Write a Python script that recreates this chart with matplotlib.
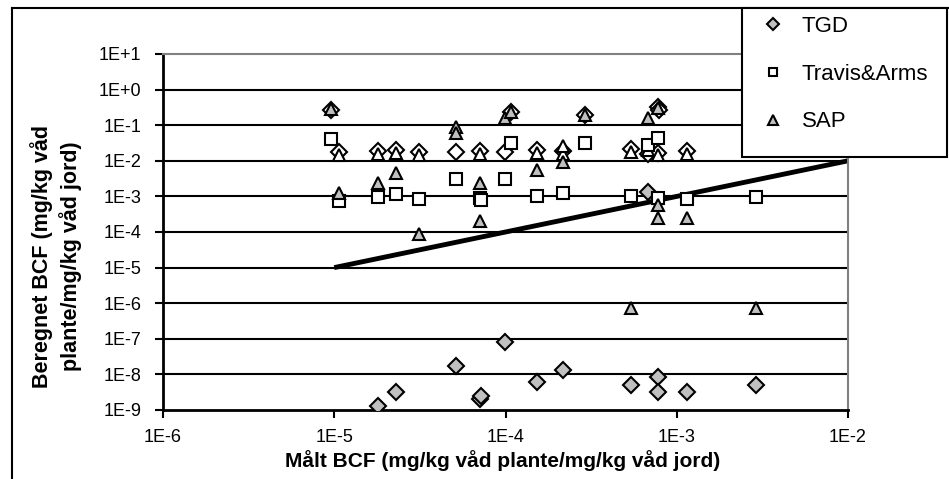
import matplotlib.pyplot as plt
from matplotlib.lines import Line2D
from matplotlib.patches import Rectangle

plt.rcParams['font.family'] = ['Liberation Sans', 'DejaVu Sans']

# Beregnet BCF (TGD), lave værdier
tgd_x = [1.79e-5, 2.29e-5, 5.12e-5, 7.1e-5, 7.2e-5, 9.9e-5, 1.52e-4, 2.17e-4,
         5.4e-4, 6.8e-4, 7.8e-4, 7.8e-4, 1.15e-3, 2.9e-3]
tgd_y = [1.3e-9, 3.2e-9, 1.7e-8, 2.1e-9, 2.5e-9, 8e-8, 6e-9, 1.3e-8,
         5e-9, 1.35e-3, 8.7e-9, 3.2e-9, 3.2e-9, 5e-9]

# Travis & Arms
travis_x = [9.6e-6, 1.06e-5, 1.79e-5, 2.29e-5, 3.13e-5, 5.12e-5, 7.1e-5, 7.2e-5,
            9.9e-5, 1.08e-4, 1.52e-4, 2.17e-4, 2.92e-4, 5.4e-4, 6.8e-4,
            7.8e-4, 7.8e-4, 1.15e-3, 2.9e-3]
travis_y = [0.04, 7.6e-4, 9.8e-4, 1.2e-3, 8.3e-4, 3e-3, 8.8e-4, 8e-4,
            3e-3, 0.032, 1.02e-3, 1.23e-3, 0.031, 1.0e-3, 0.028,
            0.043, 8.9e-4, 8.3e-4, 9.8e-4]

# SAP
sap_x = [9.6e-6, 1.06e-5, 1.79e-5, 2.29e-5, 3.13e-5, 5.12e-5, 5.12e-5, 7.13e-5,
         7.13e-5, 9.9e-5, 1.08e-4, 1.52e-4, 2.17e-4, 2.92e-4, 5.4e-4, 6.8e-4,
         7.8e-4, 7.8e-4, 7.8e-4, 1.15e-3, 2.9e-3]
sap_y = [0.29, 1.23e-3, 2.4e-3, 4.6e-3, 9e-5, 0.09, 0.06, 2.4e-3,
         2.1e-4, 0.155, 0.24, 5.5e-3, 9.4e-3, 0.19, 7.5e-7, 0.155,
         0.3, 5.7e-4, 2.4e-4, 2.4e-4, 7.5e-7]

# øvrige beregninger (uden signaturforklaring)
other_diamond_x = [9.6e-6, 1.06e-5, 1.79e-5, 2.29e-5, 3.13e-5, 5.12e-5, 7.13e-5,
                   9.9e-5, 1.08e-4, 1.52e-4, 2.17e-4, 2.92e-4, 5.4e-4, 6.8e-4,
                   7.8e-4, 7.9e-4, 7.8e-4, 1.15e-3]
other_diamond_y = [0.27, 0.018, 0.019, 0.02, 0.018, 0.018, 0.019,
                   0.018, 0.24, 0.02, 0.019, 0.19, 0.021, 0.016,
                   0.33, 0.27, 0.017, 0.019]
other_triangle_x = [1.06e-5, 1.79e-5, 2.29e-5, 3.13e-5, 7.13e-5, 1.52e-4, 2.17e-4,
                    2.17e-4, 5.4e-4, 6.8e-4, 7.8e-4, 1.15e-3]
other_triangle_y = [0.015, 0.016, 0.017, 0.015, 0.016, 0.017, 0.016,
                    0.026, 0.018, 0.02, 0.015, 0.016]

# 1:1 linje
line_x = [1e-5, 1e-2]
line_y = [1e-5, 1e-2]

x_ticks = [1e-6, 1e-5, 1e-4, 1e-3, 1e-2]
x_tick_labels = ['1E-6', '1E-5', '1E-4', '1E-3', '1E-2']
y_ticks = [1e1, 1e0, 1e-1, 1e-2, 1e-3, 1e-4, 1e-5, 1e-6, 1e-7, 1e-8, 1e-9]
y_tick_labels = ['1E+1', '1E+0', '1E-1', '1E-2', '1E-3', '1E-4', '1E-5',
                 '1E-6', '1E-7', '1E-8', '1E-9']

W, H = 949, 479
fig = plt.figure(figsize=(W / 100, H / 100), dpi=100)
ax = fig.add_axes([163 / W, 1 - 410 / H, (848 - 163) / W, (410 - 54) / H])
ax.set_xscale('log')
ax.set_yscale('log')
ax.set_xlim(1e-6, 1e-2)
ax.set_ylim(1e-9, 1e1)

for y in y_ticks[1:-1]:
    ax.axhline(y, color='black', lw=1.5, zorder=1)

ax.plot(line_x, line_y, color='black', lw=3.5, solid_capstyle='butt', zorder=2)

grey = '#c0c0c0'
mk = dict(linestyle='none', markeredgecolor='black', markeredgewidth=1.5, zorder=3)
ax.plot(other_diamond_x, other_diamond_y, marker='D', ms=8, markerfacecolor='white', **mk)
ax.plot(other_triangle_x, other_triangle_y, marker='^', ms=9, markerfacecolor='white', **mk)
ax.plot(tgd_x, tgd_y, marker='D', ms=8, markerfacecolor=grey, label='TGD', **mk)
ax.plot(travis_x, travis_y, marker='s', ms=8, markerfacecolor='white', label='Travis&Arms', **mk)
ax.plot(sap_x, sap_y, marker='^', ms=9, markerfacecolor=grey, label='SAP', **mk)

ax.set_xticks(x_ticks)
ax.set_xticklabels(x_tick_labels)
ax.set_yticks(y_ticks)
ax.set_yticklabels(y_tick_labels)
ax.xaxis.set_minor_locator(plt.NullLocator())
ax.yaxis.set_minor_locator(plt.NullLocator())
ax.tick_params(axis='both', direction='out', length=5.5, width=1.5, labelsize=13, color='black')
ax.tick_params(axis='y', pad=10)
ax.tick_params(axis='x', pad=8)

for side in ['left', 'bottom']:
    ax.spines[side].set_color('black')
    ax.spines[side].set_linewidth(2)
for side in ['top', 'right']:
    ax.spines[side].set_color('#808080')
    ax.spines[side].set_linewidth(1.5)

fig.text(56 / W, 1 - 256 / H, 'Beregnet BCF (mg/kg våd\nplante/mg/kg våd jord)',
         rotation=90, ha='center', va='center', multialignment='center',
         fontsize=15.5, fontweight='bold', linespacing=1.3)
fig.text(503 / W, 1 - 461 / H, 'Målt BCF (mg/kg våd plante/mg/kg våd jord)',
         ha='center', va='center', fontsize=15, fontweight='bold')

# ydre ramme (venstre og top)
fig.add_artist(Line2D([12 / W, 12 / W], [0, 1 - 8 / H], color='black', lw=1.5))
fig.add_artist(Line2D([12 / W, 1], [1 - 8 / H, 1 - 8 / H], color='black', lw=1.5))

# signaturforklaring
box = Rectangle((742 / W, 1 - 157 / H), 205 / W, 149 / H, transform=fig.transFigure,
                facecolor='white', edgecolor='black', lw=1.5, zorder=5)
fig.add_artist(box)
handles, labels = ax.get_legend_handles_labels()
leg = fig.legend(handles, labels, loc='upper left', bbox_to_anchor=(762 / W, 1 - 16 / H),
                 frameon=False, fontsize=16, labelspacing=1.2, handlelength=1.0,
                 handletextpad=0.8, borderpad=0, borderaxespad=0, markerscale=0.75)
leg.set_zorder(6)

fig.savefig('out.png', dpi=100)
